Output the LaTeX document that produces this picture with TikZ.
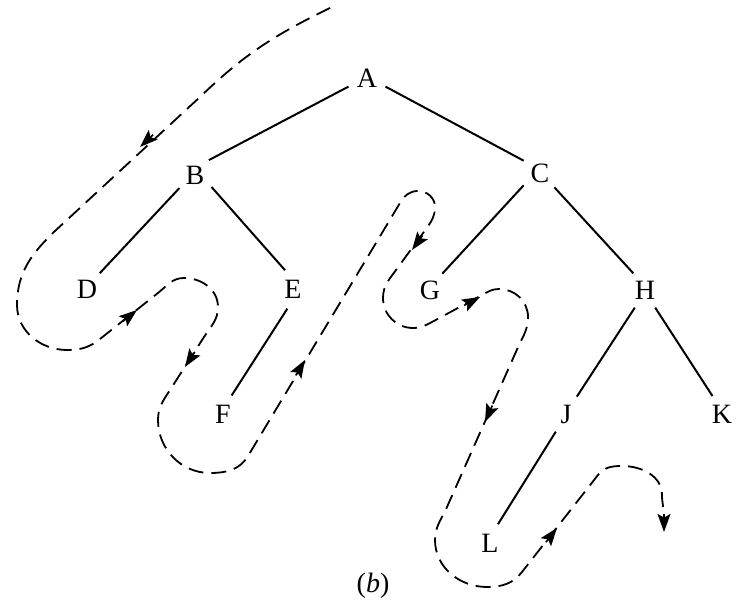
\documentclass[tikz,border=0pt]{standalone}
\usepackage{fontspec}
\setmainfont{Liberation Serif}
\usetikzlibrary{arrows.meta,calc}
\begin{document}
\begin{tikzpicture}[x=0.5pt,y=0.5pt,
  letter/.style={circle, minimum size=20pt, inner sep=0pt, text height=9.2pt, text depth=0pt, font=\fontsize{14}{16}\selectfont},
  branch/.style={line width=1pt},
  walk/.style={line width=0.9pt, dash pattern=on 7.5pt off 4pt},
  head/.style={solid, line width=0.8pt, -{Stealth[length=9pt,width=6.5pt,inset=1.8pt]}}
]
\useasboundingbox (0,0) rectangle (738,603);
\newcommand\walktip[2]{\draw[head] ($(#1)+(#2+180:18)$) -- (#1);}

% tree nodes
\node[letter] (A) at (367,525) {A};
\node[letter] (B) at (195,428) {B};
\node[letter] (C) at (540,430) {C};
\node[letter] (D) at (87,314) {D};
\node[letter] (E) at (293,314) {E};
\node[letter] (G) at (430,313) {G};
\node[letter] (H) at (645,313) {H};
\node[letter] (F) at (223,189) {F};
\node[letter] (J) at (566,189) {J};
\node[letter] (K) at (722,189) {K};
\node[letter] (L) at (490,60) {L};
\node[font=\fontsize{14}{16}\selectfont] (cap) at (373,17) {(\textit{b})};

% branches
\draw[branch] (A.205) -- (B.47);
\draw[branch] (A.335) -- (C.143);
\draw[branch] (B.220) -- (D.51);
\draw[branch] (B.324) -- (E.113);
\draw[branch] (C.217) -- (G.53);
\draw[branch] (C.315) -- (H.125);
\draw[branch] (E.254) -- (F.65);
\draw[branch] (H.240) -- (J.58);
\draw[branch] (H.300) -- (K.118);
\draw[branch] (J.240) -- (L.67);

% traversal walk
\draw[walk] (330,595) to[out=206,in=44] (200,506) -- (55,372)
  to[out=224,in=90] (17,298) to[out=270,in=180] (67,253)
  to[out=0,in=219] (100,264) -- (158,310)
  to[out=39,in=180] (184,325) to[out=0,in=90] (218,296)
  to[out=270,in=57] (204,266) -- (170,213)
  to[out=237,in=90] (158,183) to[out=270,in=180] (210,130)
  to[out=0,in=239] (248,147) -- (400,400)
  to[out=59,in=180] (418,412) to[out=0,in=90] (435,396)
  to[out=270,in=54] (426,374) -- (396,333)
  to[out=234,in=90] (383,305) to[out=270,in=180] (413,275)
  to[out=0,in=208] (432,281) -- (482,308)
  to[out=28,in=180] (499,314) to[out=0,in=90] (528,286)
  to[out=270,in=64] (519,258) -- (447,96)
  to[out=246,in=90] (435,63) to[out=270,in=180] (487,16)
  to[out=0,in=232] (522,31) -- (598,128)
  to[out=52,in=180] (622,137) to[out=0,in=90] (662,108)
  to[out=270,in=90] (664,86);

% arrowheads on the walk
\walktip{140,456}{223}
\walktip{137,293}{39}
\walktip{185,236}{237}
\walktip{305,243}{59}
\walktip{412,353}{234}
\walktip{480,306}{28}
\walktip{485,181}{246}
\walktip{557,75}{52}
\walktip{664,71}{270}
\end{tikzpicture}
\end{document}
